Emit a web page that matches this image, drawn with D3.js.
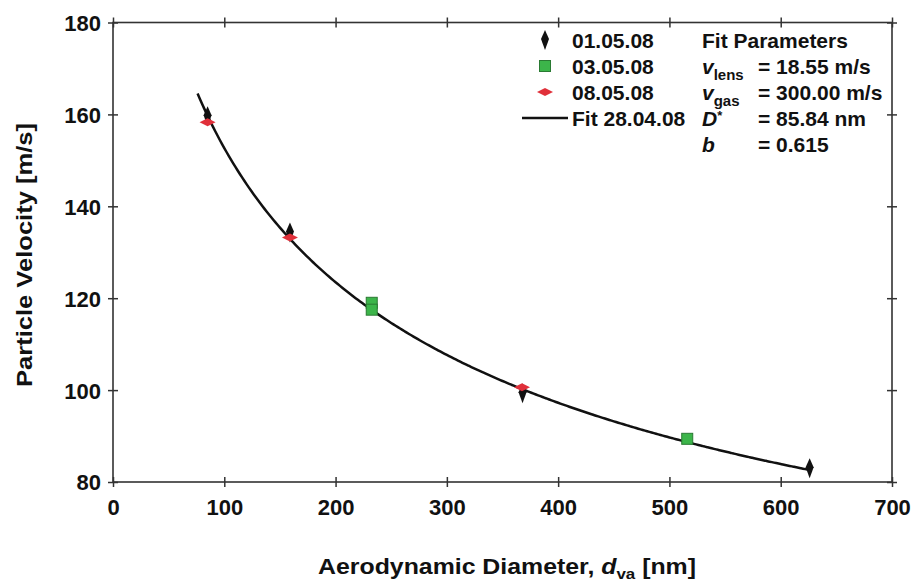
<!DOCTYPE html>
<html>
<head>
<meta charset="utf-8">
<script src="https://cdn.jsdelivr.net/npm/d3@7/dist/d3.min.js"></script>
<style>
  body { margin: 0; background: #fff; }
  svg { display: block; font-family: "Liberation Sans", Arial, sans-serif; font-weight: bold; }
</style>
</head>
<body>
<svg id="chart" width="913" height="581"></svg>
<script>
// Measured particle velocities (diameter nm, velocity m/s) per measurement day
const series0105 = [[85, 159.6], [159, 134.3], [368, 99.3], [626, 83.0]];
const series0305 = [[232.5, 119.0], [232.5, 117.5], [516, 89.4]];
const series0805 = [[85, 158.3], [159, 133.2], [367.5, 100.6]];

// Fit parameters (28.04.08)
const fitNames = ["vlens", "vgas", "Dstar", "b"];
const fitValues = [18.55, 300.00, 85.84, 0.615];
const fitRange = [76, 627];

const xTicks = [0, 100, 200, 300, 400, 500, 600, 700];
const yTicks = [80, 100, 120, 140, 160, 180];

const svg = d3.select("#chart");
const plotLeft = 113, plotRight = 892, plotTop = 22.5, plotBottom = 482;

const x = d3.scaleLinear().domain([0, 700]).range([plotLeft, plotRight]);
const y = d3.scaleLinear().domain([80, 180]).range([plotBottom, plotTop]);

const frameColor = "#333";

// frame
svg.append("rect")
  .attr("x", plotLeft).attr("y", plotTop)
  .attr("width", plotRight - plotLeft).attr("height", plotBottom - plotTop)
  .attr("fill", "none").attr("stroke", frameColor).attr("stroke-width", 1.6);

// axes with ticks crossing the frame
const tick = 5;
const bottomAxis = svg.append("g").attr("transform", `translate(0,${plotBottom})`)
  .call(d3.axisBottom(x).tickValues(xTicks).tickSize(tick).tickSizeOuter(0).tickPadding(12));
const topAxis = svg.append("g").attr("transform", `translate(0,${plotTop})`)
  .call(d3.axisTop(x).tickValues(xTicks).tickSize(tick).tickSizeOuter(0).tickFormat(""));
const leftAxis = svg.append("g").attr("transform", `translate(${plotLeft},0)`)
  .call(d3.axisLeft(y).tickValues(yTicks).tickSize(tick).tickSizeOuter(0).tickPadding(7));
const rightAxis = svg.append("g").attr("transform", `translate(${plotRight},0)`)
  .call(d3.axisRight(y).tickValues(yTicks).tickSize(tick).tickSizeOuter(0).tickFormat(""));

[bottomAxis, topAxis, leftAxis, rightAxis].forEach(g => {
  g.select(".domain").remove();
  g.selectAll(".tick line").attr("stroke", frameColor).attr("stroke-width", 1.5);
  g.selectAll(".tick text").attr("fill", "#111").attr("font-size", 22).attr("font-weight", "bold")
    .attr("font-family", "Liberation Sans, Arial, sans-serif");
});
// inner halves of the ticks
bottomAxis.selectAll(".tick").append("line").attr("y2", -tick).attr("stroke", frameColor).attr("stroke-width", 1.5);
topAxis.selectAll(".tick").append("line").attr("y2", tick).attr("stroke", frameColor).attr("stroke-width", 1.5);
leftAxis.selectAll(".tick").append("line").attr("x2", tick).attr("stroke", frameColor).attr("stroke-width", 1.5);
rightAxis.selectAll(".tick").append("line").attr("x2", -tick).attr("stroke", frameColor).attr("stroke-width", 1.5);
leftAxis.selectAll(".tick text").attr("dy", "0.36em");

// axis titles (slightly stretched lettering)
svg.append("text")
  .attr("transform", `translate(32,255) rotate(-90)`)
  .attr("text-anchor", "middle").attr("font-size", 22).attr("fill", "#111")
  .attr("textLength", 264).attr("lengthAdjust", "spacingAndGlyphs")
  .text("Particle Velocity [m/s]");

const xt = svg.append("text")
  .attr("x", 318).attr("y", 574)
  .attr("font-size", 22).attr("fill", "#111")
  .attr("textLength", 378).attr("lengthAdjust", "spacingAndGlyphs");
xt.append("tspan").text("Aerodynamic Diameter, ");
xt.append("tspan").attr("font-style", "italic").text("d");
xt.append("tspan").attr("font-size", 15).attr("dy", 5).text("va");
xt.append("tspan").attr("dy", -5).text(" [nm]");

// fit curve from the stated parameters
const [vl, vg, Ds, bb] = fitValues;
const fitX = d3.range(fitRange[0], fitRange[1] + 0.1, 2);
const fitPts = fitX.map(d => [d, vl + (vg - vl) / (1 + Math.pow(d / Ds, bb))]);
svg.append("path")
  .datum(fitPts)
  .attr("d", d3.line().x(d => x(d[0])).y(d => y(d[1])).curve(d3.curveMonotoneX))
  .attr("fill", "none").attr("stroke", "#111").attr("stroke-width", 2.5);

// markers
const thinDiamond = "M0,-10 L4,-1 L0,10 L-4,-1 Z";
const flatDiamond = "M-8,0 L0,-4 L8,0 L0,4 Z";

function drawBlack(g) {
  g.append("path").attr("d", thinDiamond).attr("fill", "#111");
}
function drawGreen(g) {
  g.append("rect").attr("x", -5.5).attr("y", -5.5).attr("width", 11).attr("height", 11)
    .attr("fill", "#3cb54a").attr("stroke", "#2a7a33").attr("stroke-width", 1);
}
function drawRed(g) {
  g.append("path").attr("d", flatDiamond).attr("fill", "#e0303a");
}

svg.append("g").selectAll("g").data(series0305).join("g")
  .attr("transform", d => `translate(${x(d[0])},${y(d[1])})`).each(function () { drawGreen(d3.select(this)); });
svg.append("g").selectAll("g").data(series0105).join("g")
  .attr("transform", d => `translate(${x(d[0])},${y(d[1])})`).each(function () { drawBlack(d3.select(this)); });
svg.append("g").selectAll("g").data(series0805).join("g")
  .attr("transform", d => `translate(${x(d[0])},${y(d[1])})`).each(function () { drawRed(d3.select(this)); });

// legend
const legendLabels = ["01.05.08", "03.05.08", "08.05.08", "Fit 28.04.08"];
const legendDraw = [drawBlack, drawGreen, drawRed, g => g.append("line").attr("x1", -23).attr("x2", 23).attr("stroke", "#111").attr("stroke-width", 2.5)];
const rowY = [40, 66, 92, 118, 144];
const fs = 21;

legendLabels.forEach((lab, i) => {
  const g = svg.append("g").attr("transform", `translate(545,${rowY[i]})`);
  legendDraw[i](g);
  svg.append("text").attr("x", 572).attr("y", rowY[i] + 7.5).attr("font-size", fs).attr("fill", "#111").text(lab);
});

svg.append("text").attr("x", 702).attr("y", rowY[0] + 7.5).attr("font-size", fs).attr("fill", "#111").text("Fit Parameters");

const paramLabels = [["v", "lens"], ["v", "gas"], ["D", "*"], ["b", ""]];
const paramText = [
  `= ${fitValues[0].toFixed(2)} m/s`,
  `= ${fitValues[1].toFixed(2)} m/s`,
  `= ${fitValues[2].toFixed(2)} nm`,
  `= ${fitValues[3].toFixed(3)}`
];
paramLabels.forEach((p, i) => {
  const yy = rowY[i + 1] + 7.5;
  const t = svg.append("text").attr("x", 702).attr("y", yy).attr("font-size", fs).attr("fill", "#111");
  t.append("tspan").attr("font-style", "italic").text(p[0]);
  if (p[1] === "*") {
    t.append("tspan").attr("font-size", 13).attr("dy", -6).text("*");
  } else if (p[1]) {
    t.append("tspan").attr("font-size", 15).attr("dy", 6).text(p[1]);
  }
  svg.append("text").attr("x", 758).attr("y", yy).attr("font-size", fs).attr("fill", "#111").text(paramText[i]);
});
</script>
</body>
</html>
